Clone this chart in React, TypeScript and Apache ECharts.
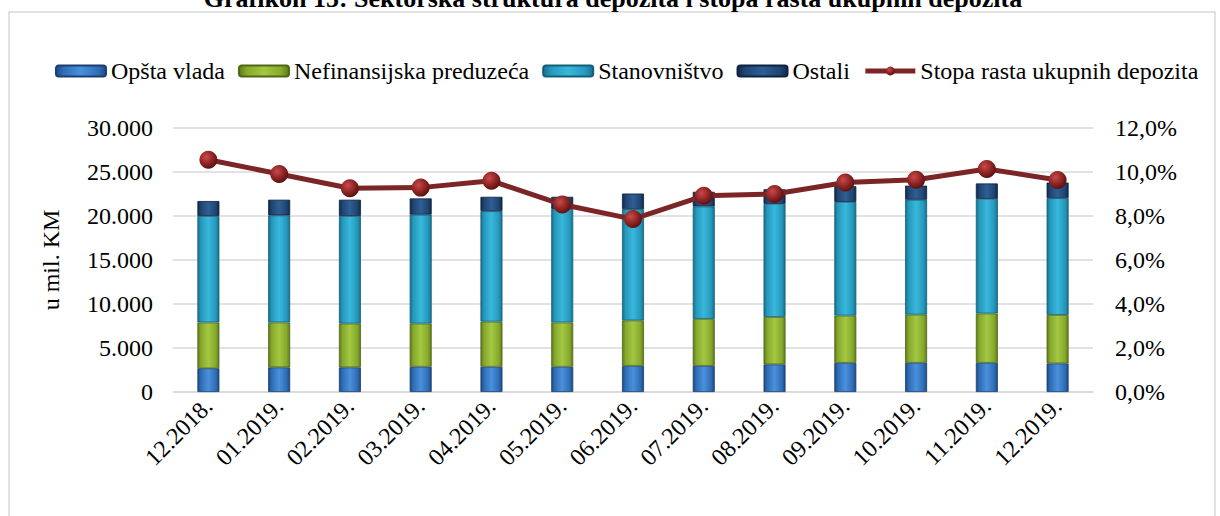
import React, { useEffect, useRef } from "react";
import * as echarts from "echarts";

const categories = ["12.2018.", "01.2019.", "02.2019.", "03.2019.", "04.2019.", "05.2019.", "06.2019.", "07.2019.", "08.2019.", "09.2019.", "10.2019.", "11.2019.", "12.2019."];
const opstaVlada = [2700, 2800, 2800, 2870, 2870, 2870, 2980, 2980, 3140, 3320, 3320, 3320, 3250];
const nefinansijska = [5200, 5100, 4980, 4910, 5130, 5030, 5150, 5330, 5390, 5370, 5480, 5600, 5510];
const stanovnistvo = [12100, 12170, 12220, 12370, 12550, 12900, 12650, 12770, 12850, 12910, 13050, 13030, 13270];
const ostali = [1700, 1780, 1850, 1850, 1630, 1380, 1770, 1670, 1660, 1800, 1600, 1750, 1770];
const stopaRasta = [10.56, 9.91, 9.26, 9.29, 9.6, 8.52, 7.86, 8.92, 9.0, 9.52, 9.65, 10.14, 9.64];

const seriesNames = ["Opšta vlada", "Nefinansijska preduzeća", "Stanovništvo", "Ostali", "Stopa rasta ukupnih depozita"];
const titleText = "Grafikon 15: Sektorska struktura depozita i stopa rasta ukupnih depozita";
const yAxisName = "u mil. KM";

const FONT = "Liberation Serif";
const FS = 24;

function bevel(edge: string, mid: string, light: string) {
  return new echarts.graphic.LinearGradient(0, 0, 1, 0, [
    { offset: 0, color: edge },
    { offset: 0.15, color: mid },
    { offset: 0.5, color: light },
    { offset: 0.85, color: mid },
    { offset: 1, color: edge },
  ]);
}

const lineBall = new echarts.graphic.RadialGradient(0.38, 0.35, 0.65, [
  { offset: 0, color: "#c94a4a" },
  { offset: 0.6, color: "#8e2424" },
  { offset: 1, color: "#5e1212" },
]);

export default function App() {
  const ref = useRef<HTMLDivElement>(null);
  useEffect(() => {
    if (!ref.current) return;
    const chart = echarts.init(ref.current, null, { renderer: "svg" });
    const barCommon = {
      type: "bar",
      stack: "dep",
      barWidth: 22,
    };
    const legendText = { fontFamily: FONT, fontSize: FS, color: "#000" };
    chart.setOption({
      animation: false,
      backgroundColor: "#ffffff",
      textStyle: { fontFamily: FONT },
      graphic: [
        {
          type: "rect",
          shape: { x: 9, y: 12, width: 1206, height: 520 },
          style: { fill: "none", stroke: "#d9d9d9", lineWidth: 1.5 },
          silent: true,
        },
        {
          type: "text",
          x: 613,
          y: -1.5,
          style: {
            text: titleText,
            fontFamily: FONT,
            fontWeight: "bold",
            fontSize: 26,
            fill: "#000",
            align: "center",
            verticalAlign: "middle",
          },
        },
      ],
      legend: {
        left: 50,
        top: 54,
        itemWidth: 50,
        itemHeight: 11,
        itemGap: 13,
        textStyle: legendText,
        data: [
          { name: seriesNames[0], textStyle: legendText },
          { name: seriesNames[1], textStyle: legendText },
          { name: seriesNames[2], textStyle: legendText },
          { name: seriesNames[3], textStyle: legendText },
          { name: seriesNames[4], textStyle: legendText, lineStyle: { width: 5, color: "#7b2526" } },
        ],
      },
      grid: { left: 173, right: 127, top: 128, bottom: 124 },
      xAxis: {
        type: "category",
        data: categories,
        axisLine: { lineStyle: { color: "#d9d9d9", width: 1.5 } },
        axisTick: { show: false },
        axisLabel: { rotate: 45, fontFamily: FONT, fontSize: FS, color: "#000", margin: 10 },
      },
      yAxis: [
        {
          type: "value",
          min: 0,
          max: 30000,
          interval: 5000,
          name: yAxisName,
          nameLocation: "middle",
          nameGap: 110,
          nameTextStyle: { fontFamily: FONT, fontSize: FS, color: "#000" },
          axisLine: { show: false },
          axisTick: { show: false },
          splitLine: { lineStyle: { color: "#d9d9d9", width: 1.5 } },
          axisLabel: {
            fontFamily: FONT,
            fontSize: FS,
            color: "#000",
            margin: 20,
            formatter: (v: number) => (v === 0 ? "0" : v.toLocaleString("en-US").replace(/,/g, ".")),
          },
        },
        {
          type: "value",
          min: 0,
          max: 12,
          interval: 2,
          position: "right",
          axisLine: { show: false },
          axisTick: { show: false },
          splitLine: { show: false },
          axisLabel: {
            fontFamily: FONT,
            fontSize: FS,
            color: "#000",
            margin: 22,
            formatter: (v: number) => v.toFixed(1).replace(".", ",") + "%",
          },
        },
      ],
      series: [
        {
          ...barCommon,
          name: seriesNames[0],
          data: opstaVlada,
          itemStyle: { color: bevel("#1c4a84", "#2f6db5", "#4a90dc"), borderColor: "#1a3f70", borderWidth: 0.8 },
        },
        {
          ...barCommon,
          name: seriesNames[1],
          data: nefinansijska,
          itemStyle: { color: bevel("#5e7a1a", "#86a82c", "#a3c842"), borderColor: "#4f6716", borderWidth: 0.8 },
        },
        {
          ...barCommon,
          name: seriesNames[2],
          data: stanovnistvo,
          itemStyle: { color: bevel("#17708e", "#2598bb", "#38b8dc"), borderColor: "#145f78", borderWidth: 0.8 },
        },
        {
          ...barCommon,
          name: seriesNames[3],
          data: ostali,
          itemStyle: { color: bevel("#10294a", "#1f4572", "#2f5e94"), borderColor: "#0e2340", borderWidth: 0.8 },
        },
        {
          type: "line",
          name: seriesNames[4],
          yAxisIndex: 1,
          data: stopaRasta,
          symbol: "circle",
          symbolSize: 18,
          z: 5,
          lineStyle: { color: "#7b2526", width: 5 },
          itemStyle: { color: lineBall, borderWidth: 0 },
        },
      ],
    });
    return () => chart.dispose();
  }, []);
  return (
    <div
      ref={ref}
      style={{ position: "absolute", left: 0, top: 0, width: 1220, height: 516 }}
    />
  );
}
